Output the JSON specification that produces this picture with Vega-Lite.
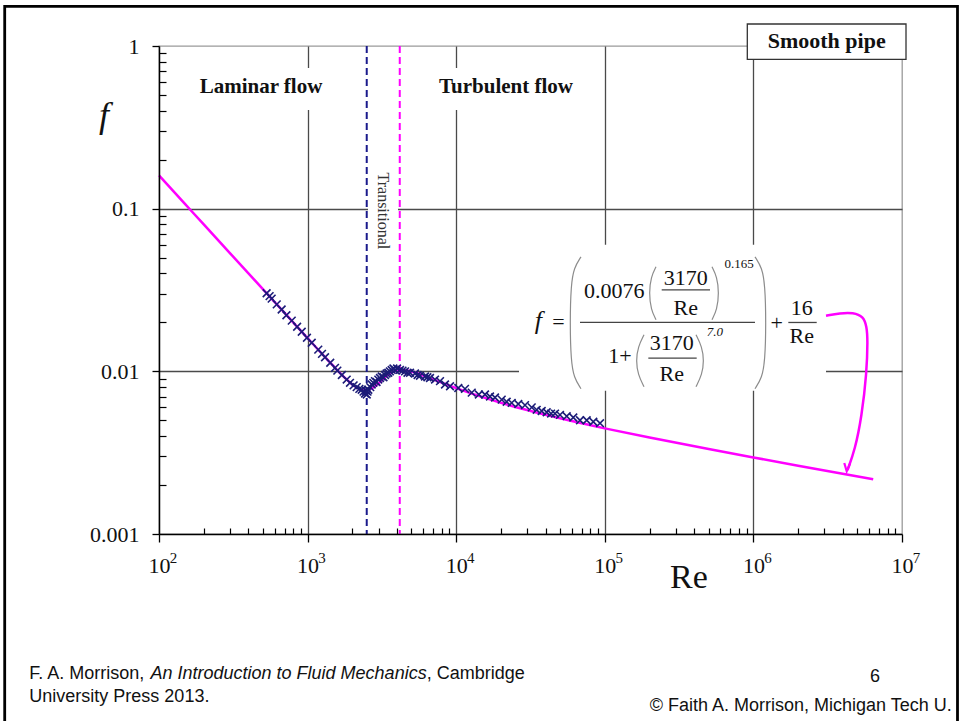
{
"$schema":"https://vega.github.io/schema/vega-lite/v6.json",
"width":743,"height":488,
"autosize":{"type":"none"},
"padding":{"left":159,"top":46,"right":63,"bottom":187},
"background":"white",
"config":{"view":{"stroke":"#9a9a9a","strokeWidth":1.3},"text":{"font":"Liberation Serif","color":"#111"}},
"resolve":{"axis":{"x":"independent","y":"independent"}},
"data":{"values":[{}]},
"datasets":{
"curve":[{"Re":100,"f":0.16},{"Re":150,"f":0.10667},{"Re":200,"f":0.08},{"Re":300,"f":0.05333},{"Re":500,"f":0.032},{"Re":700,"f":0.02286},{"Re":1000,"f":0.016},{"Re":1200,"f":0.01334},{"Re":1500,"f":0.01071},{"Re":1800,"f":0.009045},{"Re":2000,"f":0.00831},{"Re":2200,"f":0.007854},{"Re":2400,"f":0.00766},{"Re":2600,"f":0.007723},{"Re":2800,"f":0.008006},{"Re":3000,"f":0.008437},{"Re":3200,"f":0.008919},{"Re":3500,"f":0.009556},{"Re":3800,"f":0.009968},{"Re":4000,"f":0.010113},{"Re":4200,"f":0.010177},{"Re":4500,"f":0.01016},{"Re":5000,"f":0.009971},{"Re":6000,"f":0.00943},{"Re":7000,"f":0.008929},{"Re":8000,"f":0.008514},{"Re":10000,"f":0.007885},{"Re":20000,"f":0.006408},{"Re":30000,"f":0.005779},{"Re":50000,"f":0.005141},{"Re":100000,"f":0.00446},{"Re":200000,"f":0.003916},{"Re":500000,"f":0.00333},{"Re":1000000,"f":0.002957},{"Re":2000000,"f":0.002631},{"Re":6400000,"f":0.00217}],
"markers":[{"Re":530,"f":0.0302},{"Re":555,"f":0.029},{"Re":573,"f":0.028},{"Re":620,"f":0.0258},{"Re":669,"f":0.024},{"Re":720,"f":0.0221},{"Re":782,"f":0.0205},{"Re":850,"f":0.0188},{"Re":913,"f":0.0175},{"Re":990,"f":0.0161},{"Re":1066,"f":0.015},{"Re":1180,"f":0.0136},{"Re":1250,"f":0.0128},{"Re":1310,"f":0.0122},{"Re":1420,"f":0.0113},{"Re":1529,"f":0.0105},{"Re":1585,"f":0.0101},{"Re":1700,"f":0.0095},{"Re":1833,"f":0.0089},{"Re":1929,"f":0.0085},{"Re":2040,"f":0.0082},{"Re":2140,"f":0.008},{"Re":2230,"f":0.0078},{"Re":2313,"f":0.0077},{"Re":2380,"f":0.0075},{"Re":2434,"f":0.0073},{"Re":2470,"f":0.0076},{"Re":2500,"f":0.0072},{"Re":2530,"f":0.0075},{"Re":2562,"f":0.0077},{"Re":2640,"f":0.008},{"Re":2701,"f":0.0083},{"Re":2770,"f":0.0085},{"Re":2841,"f":0.0087},{"Re":2910,"f":0.0086},{"Re":2991,"f":0.0089},{"Re":3070,"f":0.0091},{"Re":3153,"f":0.0093},{"Re":3240,"f":0.0092},{"Re":3319,"f":0.0095},{"Re":3400,"f":0.0097},{"Re":3492,"f":0.0098},{"Re":3580,"f":0.01},{"Re":3681,"f":0.0102},{"Re":3780,"f":0.0104},{"Re":3875,"f":0.0102},{"Re":4000,"f":0.0104},{"Re":4186,"f":0.0102},{"Re":4350,"f":0.0101},{"Re":4524,"f":0.01},{"Re":4700,"f":0.0098},{"Re":4889,"f":0.0098},{"Re":5281,"f":0.0097},{"Re":5500,"f":0.0095},{"Re":5706,"f":0.0094},{"Re":6166,"f":0.0093},{"Re":6400,"f":0.0092},{"Re":6663,"f":0.0091},{"Re":7200,"f":0.0089},{"Re":7780,"f":0.0087},{"Re":8405,"f":0.0083},{"Re":9085,"f":0.0081},{"Re":10330,"f":0.0079},{"Re":11460,"f":0.0078},{"Re":12720,"f":0.0074},{"Re":14200,"f":0.0072},{"Re":15620,"f":0.0072},{"Re":16880,"f":0.007},{"Re":18240,"f":0.0069},{"Re":20240,"f":0.0067},{"Re":21870,"f":0.0065},{"Re":23630,"f":0.0064},{"Re":26170,"f":0.0063},{"Re":29040,"f":0.0062},{"Re":32220,"f":0.006},{"Re":34810,"f":0.0058},{"Re":37620,"f":0.0057},{"Re":40640,"f":0.0056},{"Re":43500,"f":0.0055},{"Re":46240,"f":0.0055},{"Re":49940,"f":0.0054},{"Re":55410,"f":0.0053},{"Re":61380,"f":0.0052},{"Re":68090,"f":0.005},{"Re":75530,"f":0.005},{"Re":83670,"f":0.0049},{"Re":92840,"f":0.0048}],
"arrow":[{"i":1,"Re":3081000,"f":0.02196},{"i":2,"Re":3825000,"f":0.02281},{"i":3,"Re":4702000,"f":0.023},{"i":4,"Re":5491000,"f":0.02174},{"i":5,"Re":5788000,"f":0.01887},{"i":6,"Re":5878000,"f":0.01563},{"i":7,"Re":5788000,"f":0.009763},{"i":8,"Re":5356000,"f":0.005284},{"i":9,"Re":4827000,"f":0.003299},{"i":10,"Re":4298000,"f":0.00247}],
"head":[{"i":1,"Re":4089000,"f":0.002733},{"i":2,"Re":4246000,"f":0.002428},{"i":3,"Re":4468000,"f":0.002706}],
"parens":[
{"p":"L","i":1,"Re":69150,"f":0.05057},{"p":"L","i":2,"Re":62030,"f":0.04329},{"p":"L","i":3,"Re":59220,"f":0.03403},{"p":"L","i":4,"Re":58310,"f":0.01988},{"p":"L","i":5,"Re":59220,"f":0.01162},{"p":"L","i":6,"Re":62030,"f":0.009135},{"p":"L","i":7,"Re":69150,"f":0.007816},
{"p":"R","i":1,"Re":1025000,"f":0.05057},{"p":"R","i":2,"Re":1143000,"f":0.04329},{"p":"R","i":3,"Re":1197000,"f":0.03403},{"p":"R","i":4,"Re":1216000,"f":0.01988},{"p":"R","i":5,"Re":1197000,"f":0.01162},{"p":"R","i":6,"Re":1143000,"f":0.009135},{"p":"R","i":7,"Re":1025000,"f":0.007816},
{"p":"UL","i":1,"Re":221100,"f":0.04391},{"p":"UL","i":2,"Re":204600,"f":0.03813},{"p":"UL","i":3,"Re":198400,"f":0.03039},{"p":"UL","i":4,"Re":204600,"f":0.0239},{"p":"UL","i":5,"Re":221100,"f":0.02075},
{"p":"UR","i":1,"Re":526500,"f":0.04391},{"p":"UR","i":2,"Re":569000,"f":0.03813},{"p":"UR","i":3,"Re":586900,"f":0.03039},{"p":"UR","i":4,"Re":569000,"f":0.0239},{"p":"UR","i":5,"Re":526500,"f":0.02075},
{"p":"LL","i":1,"Re":183600,"f":0.01678},{"p":"LL","i":2,"Re":167300,"f":0.01416},{"p":"LL","i":3,"Re":162200,"f":0.01162},{"p":"LL","i":4,"Re":167300,"f":0.00953},{"p":"LL","i":5,"Re":183600,"f":0.00804},
{"p":"LR","i":1,"Re":410900,"f":0.01678},{"p":"LR","i":2,"Re":451000,"f":0.01416},{"p":"LR","i":3,"Re":465200,"f":0.01162},{"p":"LR","i":4,"Re":451000,"f":0.00953},{"p":"LR","i":5,"Re":410900,"f":0.00804}]
},
"layer":[
{"mark":{"type":"rect","fill":"white"},"encoding":{"x":{"datum":161.9,"axis":null},"x2":{"datum":1415},"y":{"datum":0.7324,"axis":null},"y2":{"datum":0.4045}}},
{"mark":{"type":"rect","fill":"white"},"encoding":{"x":{"datum":6663,"axis":null},"x2":{"datum":70240},"y":{"datum":0.7324,"axis":null},"y2":{"datum":0.4045}}},
{"mark":{"type":"rect","fill":"white"},"encoding":{"x":{"datum":2550,"axis":null},"x2":{"datum":4058},"y":{"datum":0.1858,"axis":null},"y2":{"datum":0.05202}}},
{"mark":{"type":"rect","fill":"white"},"encoding":{"x":{"datum":26460,"axis":null},"x2":{"datum":3081000},"y":{"datum":0.05993,"axis":null},"y2":{"datum":0.007599}}},
{"mark":{"type":"rect","fill":"white","stroke":"#333","strokeWidth":1.3},"encoding":{"x":{"datum":909900,"axis":null},"x2":{"datum":10640000},"y":{"datum":1.365,"axis":null},"y2":{"datum":0.8286}}},
{"mark":{"type":"rule","color":"#1a1a8c","strokeWidth":2,"strokeDash":[7,4]},"encoding":{"x":{"datum":2500,"axis":null}}},
{"mark":{"type":"rule","color":"#ff00ff","strokeWidth":2,"strokeDash":[7,4]},"encoding":{"x":{"datum":4170,"axis":null}}},
{"data":{"name":"curve"},"mark":{"type":"line","color":"#ff00ff","strokeWidth":2.5,"interpolate":"monotone"},
 "encoding":{
  "x":{"field":"Re","type":"quantitative","scale":{"type":"log","domain":[100,10000000],"nice":false},
   "axis":{"orient":"bottom","values":[100,1000,10000,100000,1000000,10000000],"grid":false,"domain":true,"domainColor":"#000","domainWidth":1.5,"ticks":true,"tickColor":"#000","tickWidth":1.3,"tickSize":8,"labelExpr":"'10'","labelFont":"Liberation Serif","labelFontSize":22,"labelColor":"#111","labelPadding":13,"labelBaseline":"top","labelAlign":"center","labelFlush":false,"labelOverlap":false,"title":null,"zindex":1}},
  "y":{"field":"f","type":"quantitative","scale":{"type":"log","domain":[0.001,1],"nice":false},
   "axis":{"orient":"left","values":[0.001,0.01,0.1,1],"grid":false,"domain":true,"domainColor":"#000","domainWidth":1.5,"ticks":true,"tickColor":"#000","tickWidth":1.3,"tickSize":7,"labelExpr":"format(datum.value, '~g')","labelFont":"Liberation Serif","labelFontSize":22,"labelColor":"#111","labelPadding":13,"labelBaseline":"middle","labelAlign":"right","labelFlush":false,"labelOverlap":false,"title":null,"zindex":1}}}},
{"data":{"name":"markers"},"mark":{"type":"point","shape":"M-1,-1L1,1M1,-1L-1,1","size":60,"filled":false,"stroke":"#1c1c78","strokeWidth":1.6,"opacity":1},
 "encoding":{
  "x":{"field":"Re","type":"quantitative","axis":{"orient":"bottom","values":[1000,10000,100000,1000000],"grid":true,"gridColor":"#4a4a4a","gridWidth":1.3,"gridOpacity":1,"domain":false,"ticks":false,"labels":false,"title":null}},
  "y":{"field":"f","type":"quantitative","axis":{"orient":"left","values":[0.01,0.1],"grid":true,"gridColor":"#4a4a4a","gridWidth":1.3,"gridOpacity":1,"domain":false,"ticks":false,"labels":false,"title":null}}}},
{"data":{"name":"arrow"},"mark":{"type":"line","color":"#ff00ff","strokeWidth":2.5,"interpolate":"basis"},
 "encoding":{
  "order":{"field":"i","type":"quantitative"},
  "x":{"field":"Re","type":"quantitative","axis":{"orient":"bottom","values":[200,300,400,500,600,700,800,900,2000,3000,4000,5000,6000,7000,8000,9000,20000,30000,40000,50000,60000,70000,80000,90000,200000,300000,400000,500000,600000,700000,800000,900000,2000000,3000000,4000000,5000000,6000000,7000000,8000000,9000000],"grid":false,"domain":false,"ticks":true,"tickColor":"#000","tickWidth":1.2,"tickSize":-6,"labels":false,"title":null,"zindex":1}},
  "y":{"field":"f","type":"quantitative","axis":{"orient":"left","values":[0.002,0.003,0.004,0.005,0.006,0.007,0.008,0.009,0.02,0.03,0.04,0.05,0.06,0.07,0.08,0.09,0.2,0.3,0.4,0.5,0.6,0.7,0.8,0.9],"grid":false,"domain":false,"ticks":true,"tickColor":"#000","tickWidth":1.2,"tickSize":-7,"labels":false,"title":null,"zindex":1}}}},
{"data":{"name":"head"},"mark":{"type":"line","color":"#ff00ff","strokeWidth":2.2},
 "encoding":{
  "order":{"field":"i","type":"quantitative"},
  "x":{"field":"Re","type":"quantitative","axis":{"orient":"bottom","values":[100,1000,10000,100000,1000000,10000000],"grid":false,"domain":false,"ticks":true,"tickSize":8,"tickOpacity":0,"labelExpr":"'' + round(log(datum.value)/LN10)","labelFont":"Liberation Serif","labelFontSize":15,"labelColor":"#111","labelPadding":8,"labelOffset":14,"labelBaseline":"top","labelAlign":"center","labelFlush":false,"labelOverlap":false,"title":null}},
  "y":{"field":"f","type":"quantitative","axis":null}}},
{"data":{"name":"parens"},"mark":{"type":"line","color":"#8c8c8c","strokeWidth":1.2,"interpolate":"basis"},
 "encoding":{"detail":{"field":"p"},"order":{"field":"i","type":"quantitative"},"x":{"field":"Re","type":"quantitative","axis":null},"y":{"field":"f","type":"quantitative","axis":null}}},
{"mark":{"type":"rule","color":"#444","strokeWidth":1.3},"encoding":{"x":{"datum":68090,"axis":null},"x2":{"datum":1025000},"y":{"datum":0.01997,"axis":null}}},
{"mark":{"type":"rule","color":"#444","strokeWidth":1.3},"encoding":{"x":{"datum":241500,"axis":null},"x2":{"datum":510500},"y":{"datum":0.03172,"axis":null}}},
{"mark":{"type":"rule","color":"#444","strokeWidth":1.3},"encoding":{"x":{"datum":196300,"axis":null},"x2":{"datum":415300},"y":{"datum":0.01207,"axis":null}}},
{"mark":{"type":"rule","color":"#444","strokeWidth":1.3},"encoding":{"x":{"datum":1718000,"axis":null},"x2":{"datum":2667000},"y":{"datum":0.01997,"axis":null}}},
{"mark":{"type":"text","text":"f","font":"Liberation Serif","fontSize":26,"fontStyle":"italic","align":"center","baseline":"alphabetic"},"encoding":{"x":{"datum":35680,"axis":null},"y":{"datum":0.01827,"axis":null}}},
{"mark":{"type":"text","text":"=","font":"Liberation Serif","fontSize":22,"align":"center","baseline":"alphabetic"},"encoding":{"x":{"datum":48800,"axis":null},"y":{"datum":0.01827,"axis":null}}},
{"mark":{"type":"text","text":"0.0076","font":"Liberation Serif","fontSize":22,"align":"center","baseline":"alphabetic"},"encoding":{"x":{"datum":115700,"axis":null},"y":{"datum":0.02832,"axis":null}}},
{"mark":{"type":"text","text":"3170","font":"Liberation Serif","fontSize":22,"align":"center","baseline":"alphabetic"},"encoding":{"x":{"datum":350900,"axis":null},"y":{"datum":0.03403,"axis":null}}},
{"mark":{"type":"text","text":"Re","font":"Liberation Serif","fontSize":22,"align":"center","baseline":"alphabetic"},"encoding":{"x":{"datum":350900,"axis":null},"y":{"datum":0.02227,"axis":null}}},
{"mark":{"type":"text","text":"0.165","font":"Liberation Serif","fontSize":13,"align":"center","baseline":"alphabetic"},"encoding":{"x":{"datum":802600,"axis":null},"y":{"datum":0.04329,"axis":null}}},
{"mark":{"type":"text","text":"1+","font":"Liberation Serif","fontSize":22,"align":"center","baseline":"alphabetic"},"encoding":{"x":{"datum":126600,"axis":null},"y":{"datum":0.01129,"axis":null}}},
{"mark":{"type":"text","text":"3170","font":"Liberation Serif","fontSize":22,"align":"center","baseline":"alphabetic"},"encoding":{"x":{"datum":282000,"axis":null},"y":{"datum":0.01358,"axis":null}}},
{"mark":{"type":"text","text":"Re","font":"Liberation Serif","fontSize":22,"align":"center","baseline":"alphabetic"},"encoding":{"x":{"datum":282000,"axis":null},"y":{"datum":0.00867,"axis":null}}},
{"mark":{"type":"text","text":"7.0","font":"Liberation Serif","fontSize":13,"fontStyle":"italic","align":"center","baseline":"alphabetic"},"encoding":{"x":{"datum":551400,"axis":null},"y":{"datum":0.01638,"axis":null}}},
{"mark":{"type":"text","text":"+","font":"Liberation Serif","fontSize":22,"align":"center","baseline":"alphabetic"},"encoding":{"x":{"datum":1435000,"axis":null},"y":{"datum":0.01801,"axis":null}}},
{"mark":{"type":"text","text":"16","font":"Liberation Serif","fontSize":22,"align":"center","baseline":"alphabetic"},"encoding":{"x":{"datum":2113000,"axis":null},"y":{"datum":0.02227,"axis":null}}},
{"mark":{"type":"text","text":"Re","font":"Liberation Serif","fontSize":22,"align":"center","baseline":"alphabetic"},"encoding":{"x":{"datum":2113000,"axis":null},"y":{"datum":0.01492,"axis":null}}},
{"mark":{"type":"text","text":"Laminar flow","font":"Liberation Serif","fontSize":21,"fontWeight":"bold","align":"center","baseline":"alphabetic"},"encoding":{"x":{"datum":485.8,"axis":null},"y":{"datum":0.5144,"axis":null}}},
{"mark":{"type":"text","text":"Turbulent flow","font":"Liberation Serif","fontSize":21,"fontWeight":"bold","align":"center","baseline":"alphabetic"},"encoding":{"x":{"datum":21630,"axis":null},"y":{"datum":0.5144,"axis":null}}},
{"mark":{"type":"text","text":"Smooth pipe","font":"Liberation Serif","fontSize":22,"fontWeight":"bold","align":"center","baseline":"alphabetic"},"encoding":{"x":{"datum":3114000,"axis":null},"y":{"datum":0.968,"axis":null}}},
{"mark":{"type":"text","text":"Transitional","font":"Liberation Serif","fontSize":16,"angle":90,"align":"center","baseline":"middle","color":"#333"},"encoding":{"x":{"datum":3232,"axis":null},"y":{"datum":0.09694,"axis":null}}},
{"mark":{"type":"text","text":"Re","font":"Liberation Serif","fontSize":34,"align":"center","baseline":"alphabetic"},"encoding":{"x":{"datum":368700,"axis":null},"y":{"datum":0.0004686,"axis":null}}},
{"mark":{"type":"text","text":"f","font":"Liberation Serif","fontSize":36,"fontStyle":"italic","align":"center","baseline":"alphabetic"},"encoding":{"x":{"datum":42.65,"axis":null},"y":{"datum":0.318,"axis":null}}},
{"mark":{"type":"rect","fillOpacity":0,"stroke":"#000","strokeWidth":2.8},"encoding":{"x":{"datum":9.155,"axis":null},"x2":{"datum":23630000},"y":{"datum":1.7536,"axis":null},"y2":{"datum":0.0000546}}},
{"mark":{"type":"text","text":"F. A. Morrison,","font":"Liberation Sans","fontSize":18,"align":"left","baseline":"alphabetic"},"encoding":{"x":{"datum":13.41,"axis":null},"y":{"datum":0.00012757,"axis":null}}},
{"mark":{"type":"text","text":"An Introduction to Fluid Mechanics","font":"Liberation Sans","fontStyle":"italic","fontSize":18,"align":"left","baseline":"alphabetic"},"encoding":{"x":{"datum":87.65,"axis":null},"y":{"datum":0.00012757,"axis":null}}},
{"mark":{"type":"text","text":", Cambridge","font":"Liberation Sans","fontSize":18,"align":"left","baseline":"alphabetic"},"encoding":{"x":{"datum":6330,"axis":null},"y":{"datum":0.00012757,"axis":null}}},
{"mark":{"type":"text","text":"University Press 2013.","font":"Liberation Sans","fontSize":18,"align":"left","baseline":"alphabetic"},"encoding":{"x":{"datum":13.41,"axis":null},"y":{"datum":0.00009213,"axis":null}}},
{"mark":{"type":"text","text":"6","font":"Liberation Sans","fontSize":18,"align":"center","baseline":"alphabetic"},"encoding":{"x":{"datum":6580000,"axis":null},"y":{"datum":0.00012224,"axis":null}}},
{"mark":{"type":"text","text":"© Faith A. Morrison, Michigan Tech U.","font":"Liberation Sans","fontSize":18,"align":"right","baseline":"alphabetic"},"encoding":{"x":{"datum":21600000,"axis":null},"y":{"datum":0.0000817,"axis":null}}}
]
}
